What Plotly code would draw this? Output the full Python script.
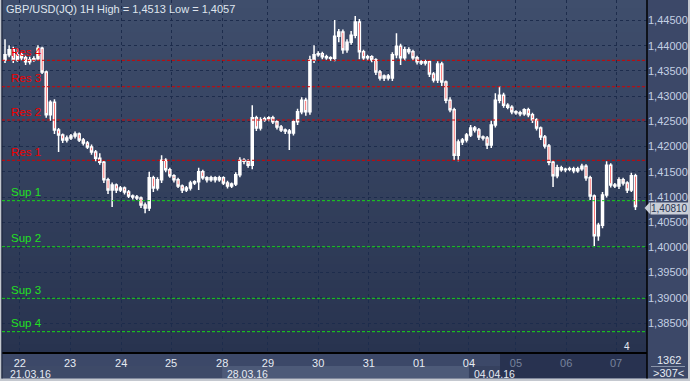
import plotly.graph_objects as go

# ---------------- data ----------------
title_text = "GBP/USD(JQ) 1H High = 1,4513 Low = 1,4057"
first_open = 1.4372
close = [
    1.4382, 1.4392, 1.4372, 1.4382, 1.4376, 1.4368, 1.4372, 1.4374, 1.4395, 1.4348,
    1.4263, 1.4288, 1.4233, 1.4223, 1.4213, 1.4217, 1.4221, 1.4225, 1.4213, 1.4207,
    1.4199, 1.4189, 1.4177, 1.4169, 1.4134, 1.4114, 1.4124, 1.4114, 1.4118, 1.4110,
    1.4102, 1.4100, 1.4098, 1.4084, 1.4078, 1.4138, 1.4118, 1.4134, 1.4173, 1.4154,
    1.4142, 1.4134, 1.4122, 1.4114, 1.4118, 1.4128, 1.4130, 1.4150, 1.4138, 1.4134,
    1.4138, 1.4134, 1.4138, 1.4128, 1.4122, 1.4126, 1.4144, 1.4173, 1.4171, 1.4163,
    1.4257, 1.4237, 1.4253, 1.4255, 1.4257, 1.4249, 1.4239, 1.4233, 1.4231, 1.4227,
    1.4249, 1.4269, 1.4292, 1.4269, 1.4372, 1.4382, 1.4384, 1.4378, 1.4376, 1.4375,
    1.4419, 1.4427, 1.4392, 1.4407, 1.4421, 1.4447, 1.4388, 1.4376, 1.4378, 1.4372,
    1.4348, 1.4336, 1.4340, 1.4336, 1.4382, 1.4399, 1.4376, 1.4392, 1.4388, 1.4376,
    1.4368, 1.4366, 1.4368, 1.4344, 1.4332, 1.4364, 1.4328, 1.4292, 1.4273, 1.4183,
    1.4209, 1.4213, 1.4223, 1.4237, 1.4233, 1.4219, 1.4217, 1.4203, 1.4243, 1.4292,
    1.4302, 1.4282, 1.4278, 1.4269, 1.4267, 1.4265, 1.4273, 1.4263, 1.4253, 1.4237,
    1.4219, 1.4201, 1.4169, 1.4142, 1.4158, 1.4154, 1.4155, 1.4156, 1.4152, 1.4156,
    1.4161, 1.4138, 1.4102, 1.4023, 1.4044, 1.4104, 1.4163, 1.4124, 1.4122, 1.4134,
    1.4128, 1.4114, 1.4142, 1.4081,
]
wick_up_pips = [
    31, 9, 6, 12, 5, 4, 6, 5, 6, 3,
    3, 4, 6, 4, 3, 5, 4, 5, 3, 4,
    4, 5, 4, 10, 3, 4, 5, 3, 4, 3,
    4, 3, 4, 3, 5, 12, 4, 5, 10, 4,
    4, 3, 4, 3, 4, 4, 3, 8, 4, 3,
    4, 3, 4, 3, 4, 3, 5, 6, 4, 4,
    25, 4, 5, 4, 3, 4, 3, 4, 3, 4,
    4, 6, 6, 5, 8, 19, 5, 4, 4, 3,
    32, 6, 5, 6, 8, 12, 6, 4, 4, 3,
    3, 4, 3, 4, 5, 26, 5, 6, 5, 4,
    4, 3, 4, 3, 4, 5, 4, 3, 6, 4,
    5, 4, 4, 6, 4, 4, 3, 4, 8, 14,
    18, 5, 4, 4, 3, 4, 3, 4, 4, 3,
    3, 4, 4, 4, 6, 4, 3, 4, 4, 4,
    5, 4, 4, 3, 5, 6, 8, 4, 4, 5,
    4, 3, 6, 4,
]
wick_dn_pips = [
    6, 5, 6, 4, 5, 6, 5, 4, 4, 4,
    6, 12, 8, 34, 6, 5, 4, 5, 4, 5,
    4, 5, 6, 5, 6, 8, 34, 6, 4, 5,
    4, 5, 4, 6, 10, 6, 8, 5, 6, 5,
    4, 5, 4, 6, 4, 5, 4, 16, 4, 5,
    4, 5, 4, 4, 5, 4, 4, 5, 6, 5,
    8, 6, 5, 4, 5, 4, 5, 4, 6, 34,
    5, 6, 5, 8, 6, 6, 4, 5, 4, 5,
    6, 12, 8, 6, 5, 6, 15, 5, 6, 5,
    6, 5, 6, 5, 6, 7, 14, 6, 5, 6,
    5, 4, 5, 6, 5, 6, 8, 6, 5, 10,
    12, 6, 5, 4, 5, 6, 5, 8, 6, 5,
    6, 5, 4, 5, 4, 5, 4, 5, 6, 5,
    6, 5, 6, 22, 5, 4, 5, 4, 5, 4,
    4, 6, 8, 20, 10, 6, 5, 5, 4, 6,
    5, 6, 4, 7,
]
day_labels = ["22", "23", "24", "25", "28", "29", "30", "31", "01", "04", "05", "06", "07"]
day_start_bar = [3.6, 15.8, 28.2, 40.3, 52.7, 63.8, 76.0, 88.3, 100.5, 112.6, 124.0, 136.2, 148.3]
week_labels = ["21.03.16", "28.03.16", "04.04.16"]
price_ticks = [1.385, 1.390, 1.395, 1.400, 1.405, 1.410, 1.415, 1.420,
               1.425, 1.430, 1.435, 1.440, 1.445]
res_levels = [1.41728, 1.42527, 1.43187, 1.43711]
res_names = ["Res 1", "Res 2", "Res 3", "Res 4"]
sup_levels = [1.40927, 1.40014, 1.38991, 1.38329]
sup_names = ["Sup 1", "Sup 2", "Sup 3", "Sup 4"]
bars_total = "1362"
bars_visible = ">307<"
marker_label = "4"

# -------------- derived OHLC --------------
opens = [first_open] + close[:-1]
highs = [max(o, c) + u * 0.0001 for o, c, u in zip(opens, close, wick_up_pips)]
lows = [min(o, c) - d * 0.0001 for o, c, d in zip(opens, close, wick_dn_pips)]
xs = list(range(len(close)))

# -------------- layout geometry --------------
W, H = 690, 381
ML, MR, MT, MB = 2, 43, 0, 29
PW, PH = W - ML - MR, H - MT - MB
X_MIN, X_MAX = -0.73, 155.8
Y_MIN, Y_MAX = 1.37926, 1.44907


def pxx(p):
    return (p - ML) / PW


def pxy(p):
    return (MT + PH - p) / PH


def data_x_to_paper(v):
    return (v - X_MIN) / (X_MAX - X_MIN)


fig = go.Figure()
fig.add_trace(go.Candlestick(
    x=xs, open=opens, high=highs, low=lows, close=close,
    increasing=dict(line=dict(color="#ffffff", width=1.5), fillcolor="#ffffff"),
    decreasing=dict(line=dict(color="#ffffff", width=1.5), fillcolor="#ff0000"),
    whiskerwidth=0, showlegend=False, hoverinfo="skip",
))

shapes = []
# vertical gradient background of plot area
top_c = (63, 78, 108)
bot_c = (40, 51, 79)
n_bands = 44
for i in range(n_bands):
    t = i / (n_bands - 1)
    col = tuple(round(top_c[k] + (bot_c[k] - top_c[k]) * t) for k in range(3))
    shapes.append(dict(type="rect", xref="paper", yref="paper", layer="below",
                       x0=0, x1=1, y0=1 - (i + 1) / n_bands, y1=1 - i / n_bands,
                       fillcolor="rgb(%d,%d,%d)" % col, line=dict(width=0)))

# week strip segments under the day labels
wk_bounds = [X_MIN, day_start_bar[4], day_start_bar[9], X_MAX]
wk_cols = ["#3e4a68", "#4d5a78", "#36415f"]
for i in range(3):
    shapes.append(dict(type="rect", xref="paper", yref="paper", layer="below",
                       x0=data_x_to_paper(wk_bounds[i]), x1=data_x_to_paper(wk_bounds[i + 1]),
                       y0=pxy(378), y1=pxy(366), fillcolor=wk_cols[i], line=dict(width=0)))
# dark scroller region
shapes.append(dict(type="rect", xref="paper", yref="paper", layer="below",
                   x0=pxx(500), x1=1, y0=pxy(378), y1=pxy(352.5),
                   fillcolor="#283250", line=dict(width=0)))
# light outer border
for (x0, x1, y0, y1) in [(0, 1.5, 0, 381), (0, 690, 378.5, 381), (688, 690, 0, 381)]:
    shapes.append(dict(type="rect", xref="paper", yref="paper", layer="above",
                       x0=pxx(x0), x1=pxx(x1), y0=pxy(y1), y1=pxy(y0),
                       fillcolor="#c4c8cf", line=dict(width=0)))
# dark inner frame lines
shapes.append(dict(type="line", xref="paper", yref="paper", layer="above",
                   x0=pxx(2), x1=pxx(2), y0=pxy(378.5), y1=1,
                   line=dict(color="#1a2236", width=1)))
shapes.append(dict(type="line", xref="paper", yref="paper", layer="above",
                   x0=1, x1=1, y0=pxy(378.5), y1=1,
                   line=dict(color="#000000", width=1.5)))
# underline in the bar-count box
shapes.append(dict(type="line", xref="paper", yref="paper", layer="above",
                   x0=pxx(651), x1=pxx(685), y0=pxy(366.5), y1=pxy(366.5),
                   line=dict(color="#8a95aa", width=1)))

# level lines
for lv in res_levels:
    shapes.append(dict(type="line", xref="paper", yref="y", x0=0, x1=1, y0=lv, y1=lv,
                       line=dict(color="#d40000", width=1, dash="3px,2px")))
for lv in sup_levels:
    shapes.append(dict(type="line", xref="paper", yref="y", x0=0, x1=1, y0=lv, y1=lv,
                       line=dict(color="#19d619", width=1, dash="3px,2px")))

# last price pointer triangle
last = close[-1]
px_per_unit = PH / (Y_MAX - Y_MIN)
lab_center = last - 1.5 / px_per_unit
dy = 6 / px_per_unit
shapes.append(dict(type="path", xref="paper", yref="y", layer="above",
                   path="M %f %f L %f %f L %f %f Z" % (pxx(644.5), lab_center, pxx(650), lab_center + dy,
                                                        pxx(650), lab_center - dy),
                   fillcolor="#c9ced7", line=dict(width=0)))

annotations = []
FONT = "Liberation Sans, Arial, sans-serif"
annotations.append(dict(text=title_text, xref="paper", yref="paper", x=pxx(4), y=pxy(8.5),
                        xanchor="left", yanchor="middle", showarrow=False,
                        font=dict(family=FONT, size=11, color="#dfe5ee")))
for lv, nm in zip(res_levels, res_names):
    annotations.append(dict(text=nm, xref="paper", yref="y", x=pxx(8.5), y=lv, yshift=8.5,
                            xanchor="left", yanchor="middle", showarrow=False,
                            font=dict(family=FONT, size=11.5, color="#ee0000")))
for lv, nm in zip(sup_levels, sup_names):
    annotations.append(dict(text=nm, xref="paper", yref="y", x=pxx(8.5), y=lv, yshift=8.5,
                            xanchor="left", yanchor="middle", showarrow=False,
                            font=dict(family=FONT, size=11.5, color="#22e022")))
# week labels
wk_x = [pxx(8), data_x_to_paper(day_start_bar[4]) + 3 / PW, data_x_to_paper(day_start_bar[9]) + 3 / PW]
for x, t in zip(wk_x, week_labels):
    annotations.append(dict(text=t, xref="paper", yref="paper", x=x, y=pxy(373.5),
                            xanchor="left", yanchor="middle", showarrow=False,
                            font=dict(family=FONT, size=10.5, color="#e6ebf3")))
# last price label
annotations.append(dict(text=("%.5f" % last).replace(".", ","), xref="paper", yref="y",
                        x=pxx(650), y=lab_center, xanchor="left", yanchor="middle", showarrow=False,
                        bgcolor="#c9ced7", borderpad=0,
                        font=dict(family=FONT, size=10, color="#2a3552")))
annotations.append(dict(text=bars_total, xref="paper", yref="paper", x=pxx(668.5), y=pxy(359.5),
                        xanchor="center", yanchor="middle", showarrow=False,
                        font=dict(family=FONT, size=11, color="#e6ebf3")))
annotations.append(dict(text=bars_visible, xref="paper", yref="paper", x=pxx(668.5), y=pxy(373),
                        xanchor="center", yanchor="middle", showarrow=False,
                        font=dict(family=FONT, size=11, color="#e6ebf3")))
annotations.append(dict(text=marker_label, xref="paper", yref="paper", x=pxx(627), y=pxy(346),
                        xanchor="center", yanchor="middle", showarrow=False,
                        font=dict(family=FONT, size=10, color="#e6ebf3")))

tick_text = []
for i, lb in enumerate(day_labels):
    if i >= 10:
        tick_text.append("<span style='color:#77839c'>%s</span>" % lb)
    else:
        tick_text.append(lb)

fig.update_layout(
    width=W, height=H,
    margin=dict(l=ML, r=MR, t=MT, b=MB, pad=0),
    paper_bgcolor="#3c4868",
    plot_bgcolor="rgba(0,0,0,0)",
    shapes=shapes,
    annotations=annotations,
    showlegend=False,
    font=dict(family=FONT, size=11, color="#e6ebf3"),
    xaxis=dict(range=[X_MIN, X_MAX], tickvals=day_start_bar, ticktext=tick_text,
               showgrid=True, gridcolor="#1d2c4c", griddash="3px,3px", gridwidth=1,
               showline=True, linecolor="#000000", linewidth=1.5, zeroline=False,
               ticks="", tickfont=dict(family=FONT, size=11, color="#e6ebf3"),
               rangeslider=dict(visible=False), fixedrange=True),
    yaxis=dict(range=[Y_MIN, Y_MAX], side="right", tickvals=price_ticks,
               ticktext=[("%.5f" % v).replace(".", ",") for v in price_ticks],
               showgrid=True, gridcolor="#1d2c4c", griddash="3px,3px", gridwidth=1,
               showline=False, zeroline=False, ticks="",
               tickfont=dict(family=FONT, size=11, color="#c3cfe3"), fixedrange=True),
)

fig.write_html(
    "out.html",
    config={"displayModeBar": False, "staticPlot": True},
    post_script="document.body.style.margin='0';document.body.style.padding='0';"
                "document.documentElement.style.overflow='hidden';",
)
